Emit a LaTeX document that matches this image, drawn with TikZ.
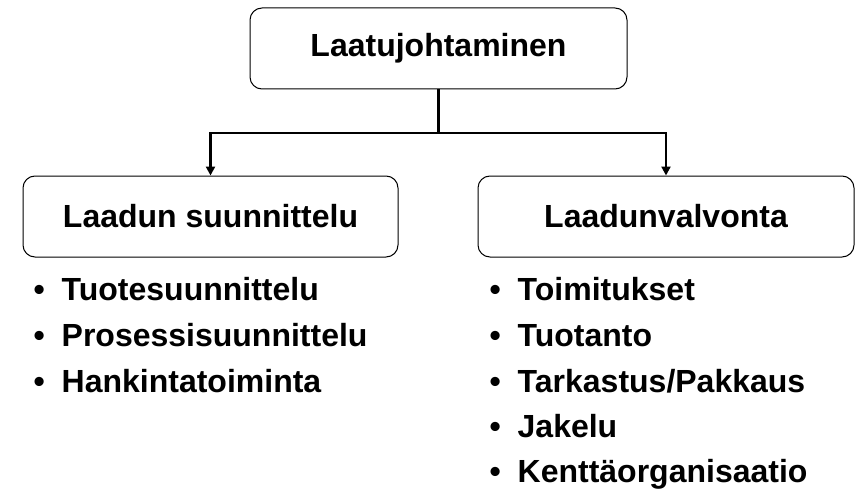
\documentclass[tikz,border=0pt]{standalone}
\usepackage{fontspec}
\setmainfont{Liberation Sans}
\usetikzlibrary{arrows.meta}
\tikzset{
  box/.style={draw=black, line width=1pt, rounded corners=12pt, minimum height=81pt, inner sep=0pt, font=\bfseries\fontsize{32}{38}\selectfont},
  conn/.style={line width=2.2pt},
  arr/.style={conn, -{Triangle[length=9pt,width=9pt]}},
  item/.style={anchor=base west, inner sep=0pt, font=\bfseries\fontsize{32}{38}\selectfont}
}
\begin{document}
\begin{tikzpicture}[x=1pt,y=-1pt]
\useasboundingbox (0,0) rectangle (856,492);
\node[box, minimum width=377pt] (top) at (438.5,48.5) {Laatujohtaminen};
\node[box, minimum width=375pt] (left) at (210.5,216.5) {Laadun suunnittelu};
\node[box, minimum width=376pt] (right) at (666,216.5) {Laadunvalvonta};
\coordinate (j) at (438.5,133);
\draw[conn] (top.south) -- (j);
\draw[arr] (j) -| (left.north);
\draw[arr] (j) -| (right.north);
\node[item] (l1) at (33.5,300) {\makebox[28pt][l]{•}Tuotesuunnittelu};
\node[item] (l2) at (33.5,346) {\makebox[28pt][l]{•}Prosessisuunnittelu};
\node[item] (l3) at (33.5,392) {\makebox[28pt][l]{•}Hankintatoiminta};
\node[item] (r1) at (489.5,300) {\makebox[28pt][l]{•}Toimitukset};
\node[item] (r2) at (489.5,346) {\makebox[28pt][l]{•}Tuotanto};
\node[item] (r3) at (489.5,392) {\makebox[28pt][l]{•}Tarkastus/Pakkaus};
\node[item] (r4) at (489.5,437) {\makebox[28pt][l]{•}Jakelu};
\node[item] (r5) at (489.5,482) {\makebox[28pt][l]{•}Kenttäorganisaatio};
\end{tikzpicture}
\end{document}
